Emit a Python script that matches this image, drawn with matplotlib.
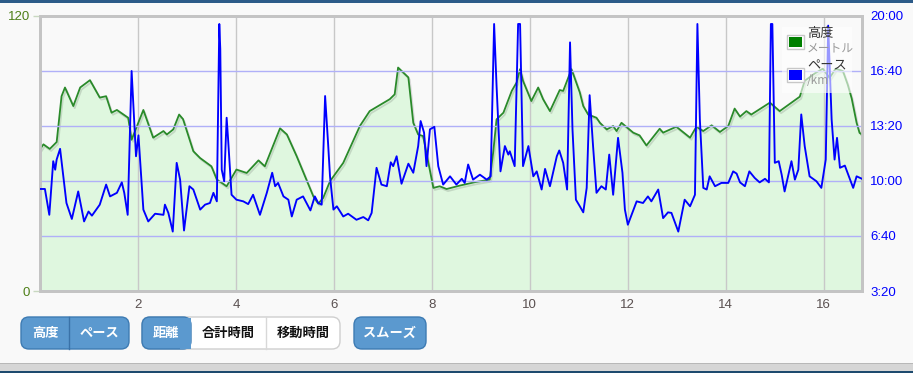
import matplotlib
matplotlib.use('Agg')
import matplotlib.pyplot as plt
from matplotlib.patches import FancyBboxPatch, Rectangle
import matplotlib.patheffects as pe
from matplotlib.ticker import FuncFormatter

plt.rcParams['font.family'] = ['Liberation Sans', 'Noto Sans CJK JP', 'DejaVu Sans']

# ---------------- data ----------------
elev_km = [0.00, 0.07, 0.20, 0.34, 0.44, 0.51, 0.68, 0.82, 1.02, 1.22, 1.35, 1.46, 1.57, 1.80, 1.87,
           2.11, 2.31, 2.52, 2.59, 2.72, 2.84, 2.92, 3.13, 3.27, 3.50, 3.61, 3.71, 3.81, 4.01, 4.22,
           4.46, 4.59, 4.90, 5.04, 5.24, 5.58, 5.68, 5.78, 5.92, 6.19, 6.53, 6.73, 7.14, 7.24, 7.31,
           7.52, 7.62, 7.72, 7.82, 8.03, 8.16, 8.30, 8.57, 8.88, 9.18, 9.25, 9.32, 9.46, 9.63, 9.73,
           9.80, 9.86, 10.03, 10.17, 10.27, 10.41, 10.61, 10.68, 10.85, 11.02, 11.09, 11.19, 11.36,
           11.43, 11.57, 11.70, 11.77, 11.87, 12.11, 12.24, 12.38, 12.65, 12.72, 12.99, 13.27, 13.40,
           13.54, 13.71, 13.88, 14.05, 14.18, 14.29, 14.42, 14.52, 14.90, 15.10, 15.51, 15.61, 15.82,
           15.98, 16.12, 16.24, 16.39, 16.49, 16.57, 16.67, 16.73, 16.78]
elev_m = [61.8, 64.0, 62.0, 65.0, 85.0, 88.8, 80.7, 88.8, 92.0, 84.4, 85.0, 77.8, 79.0, 75.6, 66.0,
          79.0, 66.9, 69.8, 68.3, 70.5, 77.0, 75.0, 61.0, 58.0, 54.4, 48.6, 47.2, 45.7, 53.0, 51.5,
          57.0, 54.4, 71.0, 68.3, 58.8, 41.3, 38.1, 40.6, 47.9, 55.9, 72.0, 78.5, 83.7, 85.8, 97.5,
          93.2, 73.4, 68.3, 67.6, 45.0, 45.7, 44.5, 46.0, 47.5, 48.6, 60.3, 74.9, 77.8, 87.3, 91.0,
          96.8, 91.7, 82.9, 88.8, 83.7, 78.5, 87.7, 87.3, 96.8, 86.6, 80.7, 77.0, 75.6,
          73.4, 70.5, 72.0, 69.8, 73.4, 69.1, 67.9, 63.5, 70.8, 69.1, 71.7, 66.9, 71.7,
          69.8, 72.3, 69.4, 72.0, 79.6, 76.1, 78.5, 77.0, 82.2, 78.5, 84.8, 91.7, 95.0,
          97.0, 93.0, 97.0, 96.0, 90.0, 84.0, 73.4, 69.0, 68.3]

pace_km = [0.00, 0.10, 0.19, 0.27, 0.31, 0.34, 0.41, 0.54, 0.65, 0.78, 0.90, 0.99, 1.06, 1.22, 1.35,
           1.43, 1.57, 1.67, 1.72, 1.79, 1.87, 1.96, 2.01, 2.11, 2.21, 2.35, 2.52, 2.55, 2.62, 2.71,
           2.79, 2.86, 2.94, 3.05, 3.13, 3.27, 3.37, 3.47, 3.54, 3.61, 3.66, 3.68, 3.71, 3.76, 3.81,
           3.84, 3.91, 4.01, 4.15, 4.25, 4.35, 4.49, 4.63, 4.74, 4.80, 4.86, 4.97, 5.07, 5.14, 5.24,
           5.37, 5.44, 5.52, 5.61, 5.68, 5.75, 5.82, 5.88, 5.92, 5.99, 6.06, 6.19, 6.29, 6.46, 6.60,
           6.70, 6.77, 6.87, 6.97, 7.08, 7.16, 7.21, 7.28, 7.38, 7.52, 7.62, 7.72, 7.77, 7.84, 7.89,
           7.96, 8.05, 8.13, 8.23, 8.37, 8.50, 8.61, 8.67, 8.74, 8.84, 8.98, 9.12, 9.20, 9.27, 9.32,
           9.40, 9.49, 9.56, 9.59, 9.69, 9.76, 9.80, 9.86, 9.97, 10.07, 10.14, 10.24, 10.31, 10.41,
           10.55, 10.60, 10.68, 10.76, 10.82, 10.87, 10.94, 11.02, 11.09, 11.16, 11.22, 11.29, 11.36,
           11.46, 11.55, 11.62, 11.70, 11.80, 11.89, 11.94, 12.00, 12.18, 12.31, 12.41, 12.48, 12.62,
           12.72, 12.82, 12.89, 13.03, 13.16, 13.27, 13.37, 13.42, 13.47, 13.54, 13.61, 13.67, 13.78,
           13.91, 14.05, 14.15, 14.22, 14.29, 14.39, 14.48, 14.59, 14.69, 14.80, 14.88, 14.92, 14.95,
           15.00, 15.08, 15.14, 15.20, 15.34, 15.41, 15.48, 15.54, 15.61, 15.71, 15.85, 15.95, 16.04,
           16.09, 16.16, 16.22, 16.27, 16.33, 16.43, 16.50, 16.60, 16.67, 16.78]
pace_s = [571, 571, 477, 672, 641, 678, 717, 520, 462, 562, 453, 489, 474, 514, 587,
          544, 557, 595, 557, 477, 1000, 690, 766, 496, 453, 481, 477, 514, 484, 416,
          666, 605, 420, 581, 569, 496, 514, 520, 557, 526, 1171, 1080, 641, 599, 830,
          751, 550, 532, 526, 516, 550, 477, 557, 630, 581, 593, 544, 532, 471, 532,
          544, 520, 493, 544, 520, 514, 909, 739, 617, 496, 508, 471, 481, 459, 469,
          457, 484, 648, 587, 581, 668, 654, 690, 590, 663, 630, 727, 818, 776, 654,
          788, 797, 654, 587, 617, 587, 608, 593, 660, 605, 623, 605, 617, 1171, 946,
          635, 727, 696, 708, 654, 1171, 1171, 654, 727, 617, 635, 569, 644, 581,
          690, 711, 666, 569, 1104, 788, 532, 508, 486, 575, 912, 727, 557,
          581, 569, 696, 550, 757, 630, 496, 441, 526, 520, 544, 526, 569,
          465, 486, 484, 416, 532, 508, 550, 1171, 824, 575, 569, 617, 581,
          593, 593, 635, 627, 595, 581, 635, 611, 595, 608, 595, 1171, 1171,
          666, 672, 623, 562, 672, 605, 641, 842, 727, 617, 599, 575, 678,
          1165, 824, 678, 757, 648, 656, 623, 575, 617, 608]

x_ticks = [2, 4, 6, 8, 10, 12, 14, 16]
elev_ticks = [0, 120]
pace_ticks = [200, 400, 600, 800, 1000, 1200]

legend_names = ['高度', 'ペース']
legend_units = ['メートル', '/km']
legend_colors = ['#008000', '#0000ff']

btn_labels = ['高度', 'ペース', '距離', '合計時間', '移動時間', 'スムーズ']

# ---------------- figure ----------------
W, H = 913, 373
fig = plt.figure(figsize=(W / 100, H / 100), dpi=100)
fig.patch.set_facecolor('#f9f9f9')

L, R, T, B = 40, 862, 16, 291
ax1 = fig.add_axes([L / W, 1 - B / H, (R - L) / W, (B - T) / H])
ax1.set_facecolor('#f9f9f9')
ax1.fill_between(elev_km, elev_m, 0, color='#dff7df', zorder=1, linewidth=0)
ax1.plot(elev_km, elev_m, color='#2a8a2a', lw=1.3, zorder=3,
         path_effects=[pe.SimpleLineShadow(offset=(1, -1.5), alpha=0.12), pe.Normal()])
ax1.set_xlim(0, 16.78)
ax1.set_ylim(0, 120)
ax1.set_xticks(x_ticks)
ax1.set_xticklabels([str(v) for v in x_ticks])
ax1.set_yticks(elev_ticks)
ax1.grid(axis='x', color='#c8c8c8', lw=1)
ax1.tick_params(axis='x', length=0, pad=6, labelsize=9.5, labelcolor='#5a5050')
ax1.tick_params(axis='y', length=5, width=1, color='#c8d8c0', pad=2, labelsize=9.5,
                labelcolor='#4d7f17')
for s in ax1.spines.values():
    s.set_color('#c4c4c4')
    s.set_linewidth(2)

ax2 = ax1.twinx()
ax2.plot(pace_km, pace_s, color='#0000ff', lw=1.35, zorder=4)
ax2.set_ylim(200, 1200)
ax2.set_yticks(pace_ticks)
ax2.yaxis.set_major_formatter(FuncFormatter(lambda v, p: f"{int(v) // 60}:{int(v) % 60:02d}"))
ax2.grid(axis='y', color='#b0b0f8', lw=1)
ax2.tick_params(axis='y', length=0, pad=6, labelsize=9.5, labelcolor='#0000ff')
for s in ax2.spines.values():
    s.set_color('#c4c4c4')
    s.set_linewidth(2)

# ---------------- overlay (pixel coords) ----------------
ov = fig.add_axes([0, 0, 1, 1], zorder=10)
ov.set_xlim(0, W)
ov.set_ylim(H, 0)
ov.axis('off')
ov.patch.set_visible(False)

# top / bottom bands
ov.add_patch(Rectangle((0, 0), W, 3, color='#2c5b88', lw=0))
ov.add_patch(Rectangle((0, 363), W, 10, color='#d6d6d6', lw=0))
ov.add_patch(Rectangle((0, 362.5), W, 1, color='#b8b8b8', lw=0))
ov.add_patch(Rectangle((0, 371), W, 2, color='#1d4a6e', lw=0))

# legend
ov.add_patch(Rectangle((782, 27), 70, 66, facecolor='white', alpha=0.6, lw=0))
sq_y = [34.5, 67.5]
txt_y = [33, 66]
for name, unit, col, sy, ty in zip(legend_names, legend_units, legend_colors, sq_y, txt_y):
    ov.add_patch(Rectangle((786.5, sy), 17, 14, facecolor='white', edgecolor='#c8c8c8', lw=1))
    ov.add_patch(Rectangle((788.5, sy + 2), 13, 10, facecolor=col, lw=0))
    ov.text(807, ty, name, fontsize=9.5, color='#333333', va='center', ha='left',
            family=['Noto Sans CJK JP', 'DejaVu Sans'])
    ov.text(807, ty + 15, unit, fontsize=8.5, color='#9a9a9a', va='center', ha='left',
            family=['Noto Sans CJK JP', 'DejaVu Sans'])

# buttons
blue = '#5b99cf'
edge = '#3d7bb3'
by0, by1 = 317, 349
bh = by1 - by0

def rbox(x0, x1, fc, ec):
    ov.add_patch(FancyBboxPatch((x0, by0), x1 - x0, bh,
                                boxstyle='round,pad=0,rounding_size=8',
                                facecolor=fc, edgecolor=ec, lw=1))

rbox(21, 129, blue, edge)
ov.plot([69, 69], [by0, by1], color='#3a72a8', lw=1)
rbox(142, 340, '#ffffff', '#cfcfcf')
ov.add_patch(FancyBboxPatch((142, by0), 49, bh, boxstyle='round,pad=0,rounding_size=8',
                            facecolor=blue, edgecolor=edge, lw=1))
ov.add_patch(Rectangle((180, by0 + 0.5), 11, bh - 1, facecolor=blue, lw=0))
ov.plot([266, 266], [by0, by1], color='#d8d8d8', lw=1)
rbox(354, 426, blue, edge)

btn_x = [45, 99, 166, 228, 303, 390]
btn_col = ['white', 'white', 'white', '#111111', '#111111', 'white']
for lab, x, c in zip(btn_labels, btn_x, btn_col):
    ov.text(x, 333, lab, fontsize=9.5, fontweight='bold', color=c, ha='center', va='center',
            family=['Noto Sans CJK JP', 'DejaVu Sans'])

fig.savefig('out.png', dpi=100, facecolor=fig.get_facecolor())
